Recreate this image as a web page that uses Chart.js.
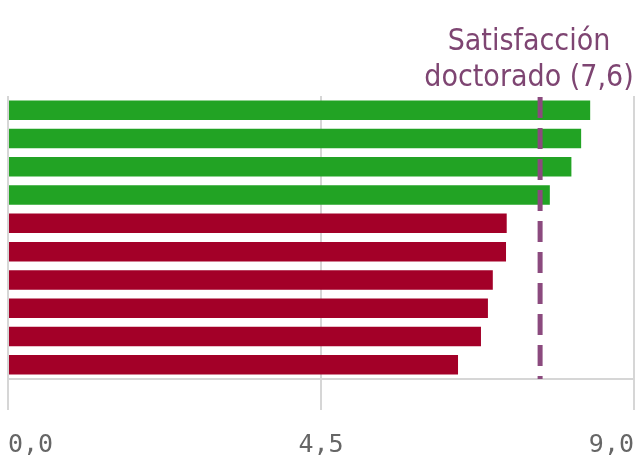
<!DOCTYPE html>
<html>
<head>
<meta charset="utf-8">
<script src="https://cdn.jsdelivr.net/npm/chart.js@4/dist/chart.umd.min.js"></script>
<style>
  html, body { margin: 0; padding: 0; background: #ffffff; }
  #wrap { width: 637px; height: 473px; position: relative; }
</style>
</head>
<body>
<div id="wrap"><canvas id="c" width="637" height="473"></canvas></div>
<script>
// ---- data ----
const categories = ["1", "2", "3", "4", "5", "6", "7", "8", "9", "10"];
const values = [8.37, 8.24, 8.10, 7.79, 7.17, 7.16, 6.97, 6.90, 6.80, 6.47];
const groups = ["above", "above", "above", "above", "below", "below", "below", "below", "below", "below"];
const tickValues = [0, 4.5, 9];
const referenceValue = 7.65;
const referenceLabel = ["Satisfacción", "doctorado (7,6)"];

const groupColors = { above: "#22a324", below: "#a30028" };

const refLinePlugin = {
  id: "refLine",
  afterDatasetsDraw(chart) {
    const { ctx, chartArea, scales } = chart;
    const x = scales.x.getPixelForValue(referenceValue);
    ctx.save();
    ctx.strokeStyle = "#8b4a7e";
    ctx.lineWidth = 5;
    ctx.setLineDash([21, 10]);
    ctx.beginPath();
    ctx.moveTo(x, chartArea.top + 1);
    ctx.lineTo(x, chartArea.bottom);
    ctx.stroke();
    ctx.setLineDash([]);
    ctx.fillStyle = "#7e4572";
    ctx.font = "30px 'Liberation Sans Narrow', 'DejaVu Sans Condensed', 'Roboto', sans-serif";
    ctx.textAlign = "center";
    ctx.textBaseline = "alphabetic";
    ctx.fillText(referenceLabel[0], 529, 50);
    ctx.fillText(referenceLabel[1], 529, 86);
    ctx.restore();
  }
};

new Chart(document.getElementById("c"), {
  type: "bar",
  data: {
    labels: categories,
    datasets: [{
      data: values,
      backgroundColor: groups.map(g => groupColors[g]),
      borderWidth: 0,
      categoryPercentage: 1.0,
      barPercentage: 0.69
    }]
  },
  options: {
    indexAxis: "y",
    responsive: false,
    animation: false,
    devicePixelRatio: 1,
    layout: { padding: { left: 8, right: 3, top: 96, bottom: 0 } },
    plugins: { legend: { display: false }, tooltip: { enabled: false } },
    scales: {
      y: { display: false },
      x: {
        min: 0, max: 9,
        afterBuildTicks(scale) { scale.ticks = tickValues.map(v => ({ value: v })); },
        afterFit(scale) { scale.paddingLeft = 0; scale.paddingRight = 0; scale.height = 94; },
        grid: { color: "#d6d6d6", lineWidth: 2, tickLength: 31, drawOnChartArea: true },
        border: { display: true, color: "#d6d6d6", width: 2 },
        ticks: {
          align: "inner",
          color: "#666666",
          padding: 20,
          font: { family: "'DejaVu Sans Mono', monospace", size: 25 },
          callback: v => Number(v).toFixed(1).replace(".", ",")
        }
      }
    }
  },
  plugins: [refLinePlugin]
});
</script>
</body>
</html>
